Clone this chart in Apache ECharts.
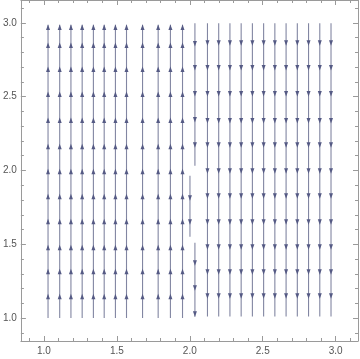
<!DOCTYPE html>
<html>
<head>
<meta charset="utf-8">
<script src="https://cdn.jsdelivr.net/npm/echarts@6/dist/echarts.min.js"></script>
<style>
html,body{margin:0;padding:0;background:#fff;}
#chart{width:360px;height:359px;}
</style>
</head>
<body>
<div id="chart"></div>
<script>
// Up-pointing stream columns (x < 2)
const upX = [1.028, 1.108, 1.185, 1.262, 1.339, 1.413, 1.490, 1.566, 1.676, 1.783, 1.867, 1.950];
const upSpan = [1.0, 2.988];
const upHeadY = [2.968, 2.846, 2.684, 2.514, 2.338, 2.161, 1.992, 1.822, 1.653, 1.477, 1.314, 1.144];

// Down-pointing stream columns (x > 2)
const downX = [2.121, 2.198, 2.275, 2.352, 2.429, 2.506, 2.583, 2.660, 2.737, 2.814, 2.891, 2.968];
const downSpan = [2.998, 1.011];
const downHeadY = [2.866, 2.697, 2.521, 2.338, 2.175, 1.999, 1.829, 1.653, 1.483, 1.314, 1.151];

// Broken streamlines near x = 2 (pointing down)
const midX = [2.035, 2.001, 2.035];
const midStart = [2.998, 1.965, 1.511];
const midEnd = [2.033, 1.551, 1.010];
const midHeadY = [[2.860, 2.697, 2.521, 2.345, 2.175], [1.816, 1.653], [1.375, 1.206, 1.029]];

// Axis ticks
const majorTicks = [1.0, 1.5, 2.0, 2.5, 3.0];
const minorTicks = [0.9, 1.0, 1.1, 1.2, 1.3, 1.4, 1.5, 1.6, 1.7, 1.8, 1.9, 2.0, 2.1, 2.2, 2.3, 2.4, 2.5, 2.6, 2.7, 2.8, 2.9, 3.0, 3.1];
const xRange = [0.842, 3.153];
const yRange = [0.845, 3.155];

// Build segment and head data
const segData = [];
const headData = [];
upX.forEach(x => {
  segData.push([x, upSpan[0], upSpan[1]]);
  upHeadY.forEach(y => headData.push([x, y, 1]));
});
downX.forEach(x => {
  segData.push([x, downSpan[0], downSpan[1]]);
  downHeadY.forEach(y => headData.push([x, y, -1]));
});
midX.forEach((x, i) => {
  segData.push([x, midStart[i], midEnd[i]]);
  midHeadY[i].forEach(y => headData.push([x, y, -1]));
});

const frameColor = '#9a9a9a';
const labelColor = '#555';
const font = 'Liberation Sans, Arial, sans-serif';

function makeAxis(pos, ticks, len, showLine, showLabel, range) {
  return {
    type: 'value', position: pos, min: range[0], max: range[1],
    axisLine: {show: showLine, onZero: false, lineStyle: {color: frameColor, width: 1}},
    axisTick: {show: true, inside: true, length: len, customValues: ticks, lineStyle: {color: frameColor, width: 1}},
    axisLabel: showLabel ? {
      show: true, customValues: majorTicks, color: labelColor, fontSize: 10, fontFamily: font,
      margin: pos === 'bottom' ? 5 : 4,
      formatter: v => v.toFixed(1)
    } : {show: false},
    splitLine: {show: false}
  };
}

const chart = echarts.init(document.getElementById('chart'));
chart.setOption({
  backgroundColor: '#fff',
  animation: false,
  grid: {left: 17, right: 2, top: 0, bottom: 18, containLabel: false},
  xAxis: [
    makeAxis('bottom', majorTicks, 5, true, true, xRange),
    makeAxis('bottom', minorTicks, 3, false, false, xRange),
    makeAxis('top', majorTicks, 5, true, false, xRange),
    makeAxis('top', minorTicks, 3, false, false, xRange)
  ],
  yAxis: [
    makeAxis('left', majorTicks, 5, true, true, yRange),
    makeAxis('left', minorTicks, 3, false, false, yRange),
    makeAxis('right', majorTicks, 5, true, false, yRange),
    makeAxis('right', minorTicks, 3, false, false, yRange)
  ],
  series: [
    {
      type: 'custom', xAxisIndex: 0, yAxisIndex: 0,
      data: segData,
      encode: {x: 0, y: [1, 2]},
      renderItem: function (params, api) {
        const p0 = api.coord([api.value(0), api.value(1)]);
        const p1 = api.coord([api.value(0), api.value(2)]);
        return {
          type: 'line',
          shape: {x1: p0[0], y1: p0[1], x2: p1[0], y2: p1[1]},
          style: {stroke: '#8286a2', lineWidth: 1.1}
        };
      }
    },
    {
      type: 'custom', xAxisIndex: 0, yAxisIndex: 0,
      data: headData,
      encode: {x: 0, y: 1},
      renderItem: function (params, api) {
        const c = api.coord([api.value(0), api.value(1)]);
        const d = api.value(2);
        return {
          type: 'polygon',
          shape: {points: [
            [c[0], c[1] - d * 3],
            [c[0] - 2, c[1] + d * 2.5],
            [c[0] + 2, c[1] + d * 2.5]
          ]},
          style: {fill: '#555a84'}
        };
      }
    }
  ]
});
</script>
</body>
</html>
